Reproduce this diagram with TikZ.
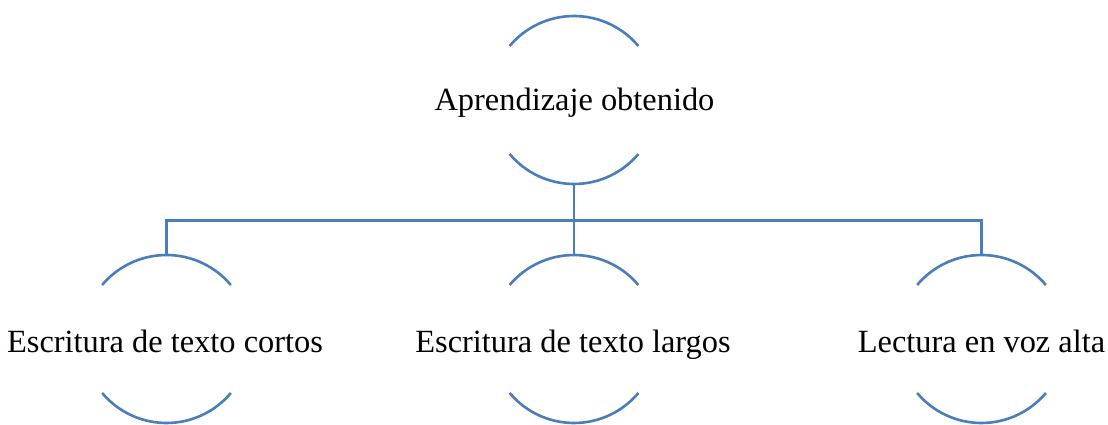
\documentclass[tikz,border=0pt]{standalone}
\usepackage{fontspec}
\setmainfont{Liberation Serif}
\definecolor{arcblue}{HTML}{4A7EBB}
\begin{document}
\begin{tikzpicture}[x=1pt,y=1pt,
  ring/.style={circle,draw=none,minimum size=168pt,inner sep=0pt,outer sep=0pt},
  lbl/.style={anchor=base,font=\fontsize{32.4}{38}\selectfont,inner sep=0pt},
  arcline/.style={draw=arcblue,line width=2.6pt},
  conn/.style={draw=arcblue,line width=2.6pt}]
\useasboundingbox (0,0) rectangle (1108,424);
% rings (centres)
\node[ring] (r0) at (574,324) {};
\node[ring] (r1) at (166.5,85) {};
\node[ring] (r2) at (574,85) {};
\node[ring] (r3) at (981.5,85) {};
% labels
\node[lbl] (t0) at (574.5,313.5) {Aprendizaje obtenido};
\node[lbl] (t1) at (165,72) {Escritura de texto cortos};
\node[lbl] (t2) at (573,72) {Escritura de texto largos};
\node[lbl] (t3) at (981.5,72) {Lectura en voz alta};
% arcs
\foreach \n in {r0,r1,r2,r3}{
  \draw[arcline] (\n.40) arc[start angle=40,end angle=140,radius=84pt];
  \draw[arcline] (\n.220) arc[start angle=220,end angle=320,radius=84pt];
}
% connectors
\coordinate (bar) at (574,203.3);
\draw[conn] (r0.south) -- (r0.south |- bar);
\draw[conn] (r1.north) |- (r3.north |- bar) -- (r3.north);
\draw[conn] (r0.south |- bar) -- (r2.north);
\end{tikzpicture}
\end{document}
